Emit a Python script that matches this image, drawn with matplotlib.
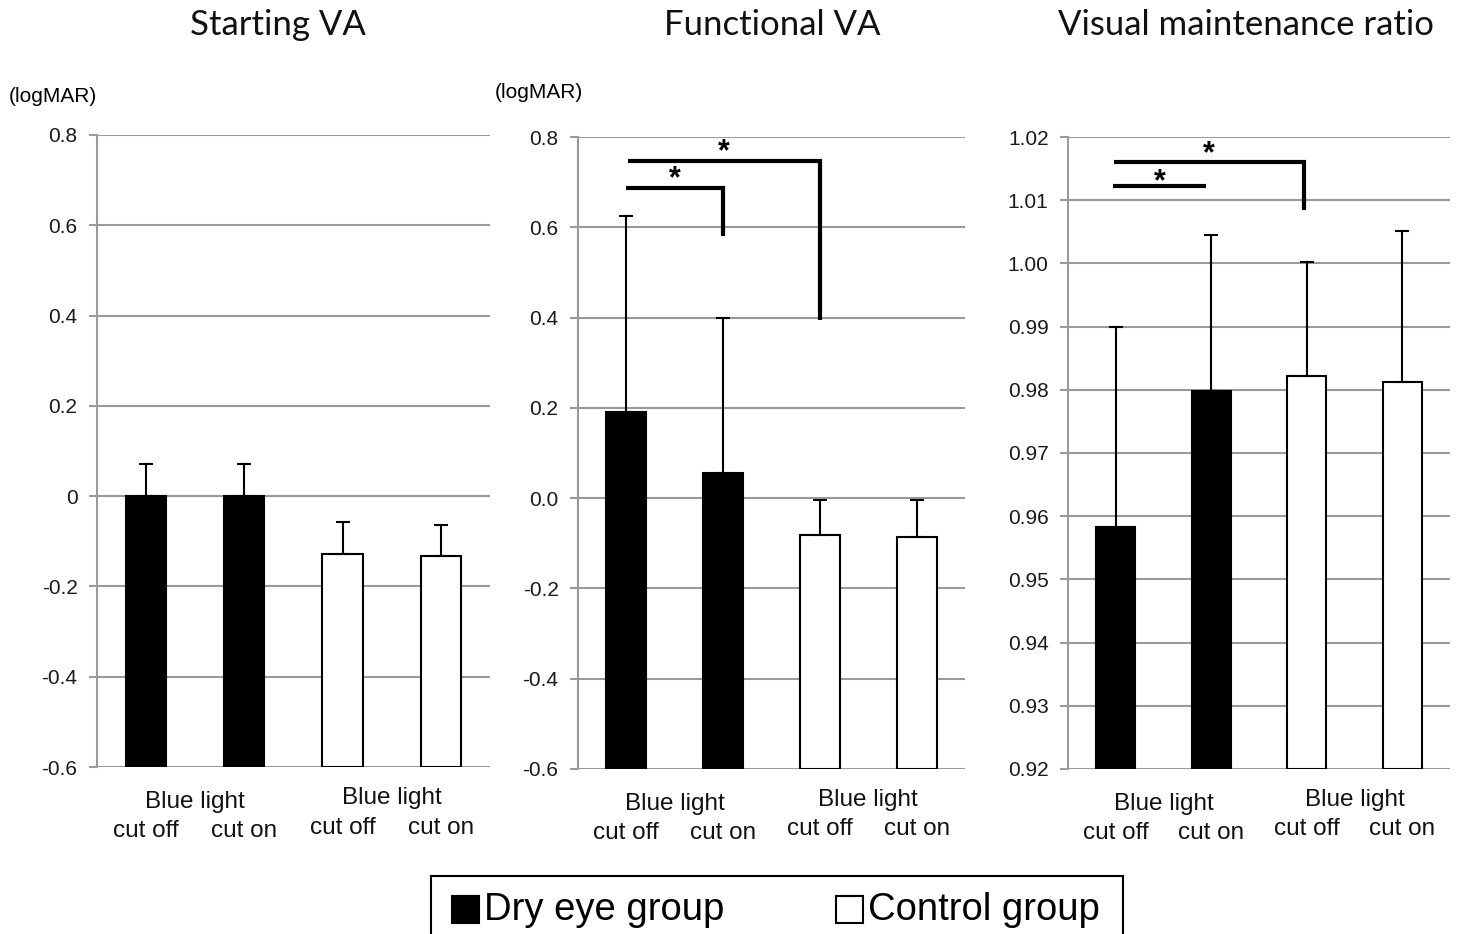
import numpy as np
import matplotlib
matplotlib.use("Agg")
from matplotlib import pyplot as plt

# data
titles = ["Starting VA", "Functional VA", "Visual maintenance ratio"]
groups = ["dry", "dry", "control", "control"]
start_va = [0.0, 0.0, -0.128, -0.133]
start_err = [0.071, 0.071, 0.070, 0.070]
func_va = [0.191, 0.055, -0.082, -0.086]
func_err = [0.435, 0.343, 0.078, 0.082]
ratio = [0.9583, 0.9798, 0.9822, 0.9812]
ratio_err = [0.0316, 0.0247, 0.0180, 0.0240]

ylims = [(-0.6, 0.8), (-0.6, 0.8), (0.92, 1.02)]
yticks = [np.arange(-0.6, 0.81, 0.2), np.arange(-0.6, 0.81, 0.2), np.arange(0.92, 1.021, 0.01)]
ytick_labels = [["-0.6", "-0.4", "-0.2", "0", "0.2", "0.4", "0.6", "0.8"],
                ["-0.6", "-0.4", "-0.2", "0.0", "0.2", "0.4", "0.6", "0.8"],
                ["%.2f" % v for v in np.arange(0.92, 1.021, 0.01)]]

# significance brackets: (x_start, x_end, y_line, y_drop or None, star offset in pt)
brackets = [
    [],
    [(0.0, 1.0, 0.687, 0.58, -4.5), (0.02, 2.0, 0.747, 0.395, -4.5)],
    [(-0.03, 0.95, 1.0122, None, -8), (-0.02, 1.97, 1.016, 1.0085, -5)],
]

plt.rcParams['font.family'] = ['Liberation Sans', 'DejaVu Sans']

fig = plt.figure(figsize=(14.58, 9.34), dpi=100)
rects = [[0.0665, 0.1788, 0.2695, 0.6767],
         [0.3964, 0.1767, 0.2655, 0.6766],
         [0.7325, 0.1767, 0.2620, 0.6766]]
title_x = [278, 772, 1246]
values = [start_va, func_va, ratio]
errs = [start_err, func_err, ratio_err]
grid_col = "#9a9a9a"

for k in range(3):
    ax = fig.add_axes(rects[k])
    x = np.arange(4)
    vals = np.array(values[k])
    ylo = ylims[k][0]
    for i in range(4):
        color = "black" if groups[i] == "dry" else "white"
        ax.bar(x[i], vals[i] - ylo, bottom=ylo, width=0.41, color=color,
               edgecolor="black", linewidth=1.5, zorder=3)
        ax.errorbar(x[i], vals[i], yerr=[[0], [errs[k][i]]], fmt="none",
                    ecolor="black", elinewidth=1.5, capsize=5, capthick=1.5, zorder=4)
    ax.set_xlim(-0.5, 3.5)
    ax.set_ylim(*ylims[k])
    ax.set_yticks(yticks[k])
    ax.set_yticklabels(ytick_labels[k], fontsize=15, color="#1a1a1a")
    ax.set_xticks([])
    for yv in yticks[k]:
        ax.axhline(yv, color=grid_col, linewidth=1.5, zorder=1)
    for s in ["top", "right", "bottom"]:
        ax.spines[s].set_visible(False)
    ax.spines["left"].set_color(grid_col)
    ax.spines["left"].set_linewidth(1.5)
    ax.tick_params(axis="y", length=6, width=1.5, color=grid_col, pad=8)

    for (xa, xb, yl, yd, soff) in brackets[k]:
        if yd is None:
            ax.plot([xa, xb], [yl, yl], color="black", lw=3, solid_capstyle="butt", zorder=5)
        else:
            ax.plot([xa, xb, xb], [yl, yl, yd], color="black", lw=3,
                    solid_joinstyle="miter", solid_capstyle="butt", zorder=5)
        ax.annotate("*", xy=((xa + xb) / 2, yl), xytext=(0, soff), textcoords="offset points",
                    ha="center", va="bottom", fontsize=22, fontweight="bold", zorder=5)

    # category labels
    for c, yoff in [(0.5, 0.0), (2.5, -2.5)]:
        ax.annotate("Blue light", xy=(c, 0), xycoords=("data", "axes fraction"),
                    xytext=(0, -33 - yoff), textcoords="offset points",
                    ha="center", va="bottom", fontsize=17.5, color="#111111")
    for i, lab in enumerate(["cut off", "cut on", "cut off", "cut on"]):
        yoff = 0 if i < 2 else -2.5
        ax.annotate(lab, xy=(i, 0), xycoords=("data", "axes fraction"),
                    xytext=(0, -54 - yoff), textcoords="offset points",
                    ha="center", va="bottom", fontsize=17.5, color="#111111")

    fig.text(title_x[k] / 1458, 1 - 25 / 934, titles[k], ha="center", va="center",
             fontsize=25, family=["Lato", "DejaVu Sans"], color="#111111")

fig.text(53 / 1458, 1 - 96 / 934, "(logMAR)", ha="center", va="center", fontsize=15)
fig.text(539 / 1458, 1 - 93 / 934, "(logMAR)", ha="center", va="center", fontsize=15)

# legend box
leg_ax = fig.add_axes([431 / 1458, 0, (1123 - 431) / 1458, (934 - 876) / 934])
leg_ax.set_xlim(431, 1123)
leg_ax.set_ylim(934, 876)
leg_ax.set_xticks([])
leg_ax.set_yticks([])
for s in leg_ax.spines.values():
    s.set_linewidth(1.5)
leg_ax.spines["bottom"].set_visible(False)
leg_ax.add_patch(plt.Rectangle((452, 896), 27, 27, facecolor="black", edgecolor="black", lw=1.5))
leg_ax.text(484, 910, "Dry eye group", ha="left", va="center", fontsize=27.5)
leg_ax.add_patch(plt.Rectangle((836, 896), 27, 27, facecolor="white", edgecolor="black", lw=1.5))
leg_ax.text(868, 910, "Control group", ha="left", va="center", fontsize=27.5)

fig.savefig("out.png", dpi=100)
